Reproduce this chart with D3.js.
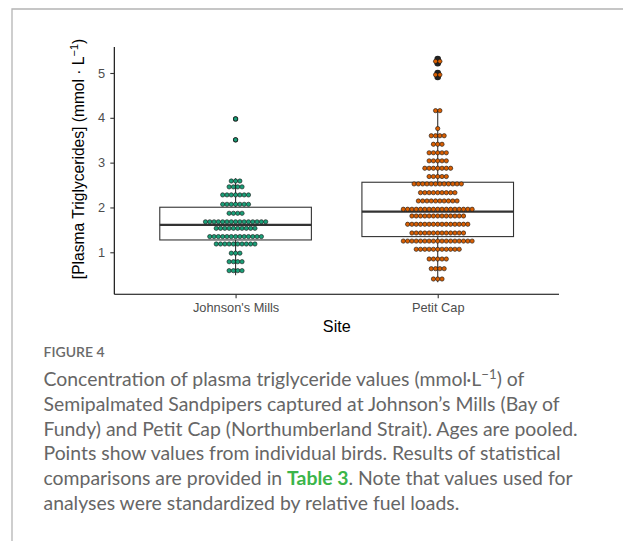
<!DOCTYPE html>
<html>
<head>
<meta charset="utf-8">
<script src="https://cdn.jsdelivr.net/npm/d3@7"></script>
<style>
  body { margin: 0; background: #fff; }
  svg { display: block; }
</style>
</head>
<body>
<svg id="fig" width="623" height="541"></svg>
<script>
// sites on the x axis
const sites = ["Johnson's Mills", "Petit Cap"]
const siteColors = ["#1b9e77", "#d95f02"]

// dotplot bins (bin centre in mmol/L) and how many birds sit in each bin
const jmBins = [3.975, 3.51, 2.59, 2.46, 2.28, 2.07, 1.87, 1.68, 1.535, 1.35, 1.185, 0.98, 0.79, 0.59]
const jmCounts = [1, 1, 3, 4, 7, 7, 4, 15, 10, 13, 10, 3, 4, 4]
const pcBins = [5.26, 4.96, 4.16, 3.76, 3.60, 3.41, 3.22, 3.04, 2.875, 2.69, 2.525, 2.33, 2.145, 1.96, 1.81, 1.625, 1.43, 1.25, 1.067, 0.85, 0.634, 0.404]
const pcCounts = [2, 2, 2, 1, 4, 3, 5, 5, 7, 5, 12, 9, 10, 17, 13, 15, 13, 17, 11, 5, 4, 3]

// boxplot stats: [lower whisker, q1, median, q3, upper whisker]
const jmBox = [0.49, 1.275, 1.61, 2.005, 2.65]
const pcBox = [0.33, 1.35, 1.906, 2.5625, 4.18]
const jmOutliers = [3.51, 3.975]
const pcOutliers = [4.91, 5.0, 5.22, 5.31]

const yTicks = [1, 2, 3, 4, 5]

const svg = d3.select("#fig")

// frame of the figure panel
svg.append("path")
    .attr("d", "M12,541V9H623")
    .attr("fill", "none")
    .attr("stroke", "#b4b4b4")
    .attr("stroke-width", 1.3)

const pLeft = 114.3, pRight = 559, pTop = 47, pBottom = 294.3

let y = d3.scaleLinear().domain([0.0625, 5.58]).range([pBottom, pTop])
let x = d3.scalePoint().domain(sites).range([pLeft, pRight]).padding(0.6)
let boxW = x.step() * 0.75
let r = 2.15

let groups = [
    { site: sites[0], color: siteColors[0], bins: jmBins, counts: jmCounts, box: jmBox, out: jmOutliers, outR: 2.6 },
    { site: sites[1], color: siteColors[1], bins: pcBins, counts: pcCounts, box: pcBox, out: pcOutliers, outR: 3.3 }
]

let plot = svg.append("g")

groups.map(g => {
    let cx = x(g.site)
    let b = g.box
    // whiskers
    plot.append("line")
        .attr("x1", cx).attr("x2", cx)
        .attr("y1", y(b[3])).attr("y2", y(b[4]))
        .attr("stroke", "#333").attr("stroke-width", 1.1)
    plot.append("line")
        .attr("x1", cx).attr("x2", cx)
        .attr("y1", y(b[1])).attr("y2", y(b[0]))
        .attr("stroke", "#333").attr("stroke-width", 1.1)
    // box
    plot.append("rect")
        .attr("x", cx - boxW / 2)
        .attr("y", y(b[3]))
        .attr("width", boxW)
        .attr("height", y(b[1]) - y(b[3]))
        .attr("fill", "#fff")
        .attr("stroke", "#333")
        .attr("stroke-width", 1.1)
    plot.append("line")
        .attr("x1", cx - boxW / 2).attr("x2", cx + boxW / 2)
        .attr("y1", y(b[2])).attr("y2", y(b[2]))
        .attr("stroke", "#333").attr("stroke-width", 2.3)
    // outliers from the boxplot
    plot.selectAll(null)
        .data(g.out)
        .join("circle")
        .attr("cx", cx)
        .attr("cy", d => y(d))
        .attr("r", g.outR)
        .attr("fill", "#222")
})

// dots, stacked centred in each bin
groups.map(g => {
    let cx = x(g.site)
    let dots = []
    g.bins.map((v, i) => {
        let n = g.counts[i]
        for (let k = 0; k < n; k++) dots.push({ v: v, off: (k - (n - 1) / 2) * 2 * r })
    })
    plot.selectAll(null)
        .data(dots)
        .join("circle")
        .attr("cx", d => cx + d.off)
        .attr("cy", d => y(d.v))
        .attr("r", r)
        .attr("fill", g.color)
        .attr("stroke", "#111")
        .attr("stroke-width", 0.6)
})

// axes
let yAxis = svg.append("g")
    .attr("transform", `translate(${pLeft},0)`)
    .call(d3.axisLeft(y).tickValues(yTicks).tickFormat(d3.format("d")).tickSize(4).tickPadding(5.3).tickSizeOuter(0))
let xAxis = svg.append("g")
    .attr("transform", `translate(0,${pBottom})`)
    .call(d3.axisBottom(x).tickSize(4).tickPadding(5).tickSizeOuter(0))

yAxis.select(".domain").attr("d", `M0,${pTop}V${pBottom}`)
xAxis.select(".domain").attr("d", `M${pLeft},0H${pRight}`)
;[yAxis, xAxis].map(a => {
    a.select(".domain").attr("stroke", "#000").attr("stroke-width", 1.1)
    a.selectAll(".tick line").attr("stroke", "#333").attr("stroke-width", 1.1)
    a.selectAll(".tick text")
        .attr("fill", "#4d4d4d")
        .attr("font-family", "'Liberation Sans', Arial, sans-serif")
        .attr("font-size", 12.8)
})

// axis titles
svg.append("text")
    .attr("x", 336.8)
    .attr("y", 331.7)
    .attr("text-anchor", "middle")
    .attr("font-family", "'Liberation Sans', Arial, sans-serif")
    .attr("font-size", 16.2)
    .attr("fill", "#000")
    .text("Site")

let yTitle = svg.append("text")
    .attr("transform", "translate(84,159) rotate(-90)")
    .attr("text-anchor", "middle")
    .attr("font-family", "'Liberation Sans', Arial, sans-serif")
    .attr("font-size", 15.6)
    .attr("fill", "#000")
yTitle.append("tspan").text("[Plasma Triglycerides] (mmol \u00b7 L")
yTitle.append("tspan").attr("dy", -6).attr("font-size", 10.9).text("\u22121")
yTitle.append("tspan").attr("dy", 6).text(")")

// caption
const capFont = "Lato, 'Open Sans', sans-serif"
svg.append("text")
    .attr("x", 43.5).attr("y", 357)
    .attr("font-family", capFont)
    .attr("font-size", 14)
    .attr("font-weight", 600)
    .attr("fill", "#6a6a6a")
    .text("FIGURE 4")

const capLines = [
    [["Concentration of plasma triglyceride values (mmol\u00b7L"], ["\u22121", "sup"], [") of"]],
    [["Semipalmated Sandpipers captured at Johnson\u2019s Mills (Bay of"]],
    [["Fundy) and Petit Cap (Northumberland Strait). Ages are pooled."]],
    [["Points show values from individual birds. Results of statistical"]],
    [["comparisons are provided in "], ["Table 3", "link"], [". Note that values used for"]],
    [["analyses were standardized by relative fuel loads."]]
]

capLines.map((line, i) => {
    let t = svg.append("text")
        .attr("x", 43.5)
        .attr("y", 386 + i * 24.8)
        .attr("font-family", capFont)
        .attr("font-size", 19.4)
        .attr("fill", "#666")
    line.map(part => {
        let s = t.append("tspan").text(part[0])
        if (part[1] === "sup") s.attr("font-size", 13.2).attr("dy", -7.5)
        if (part[1] === "link") s.attr("fill", "#3bb54a").attr("font-weight", 700)
        if (i === 0 && part[0] === ") of") s.attr("dy", 7.5)
    })
})
</script>
</body>
</html>
